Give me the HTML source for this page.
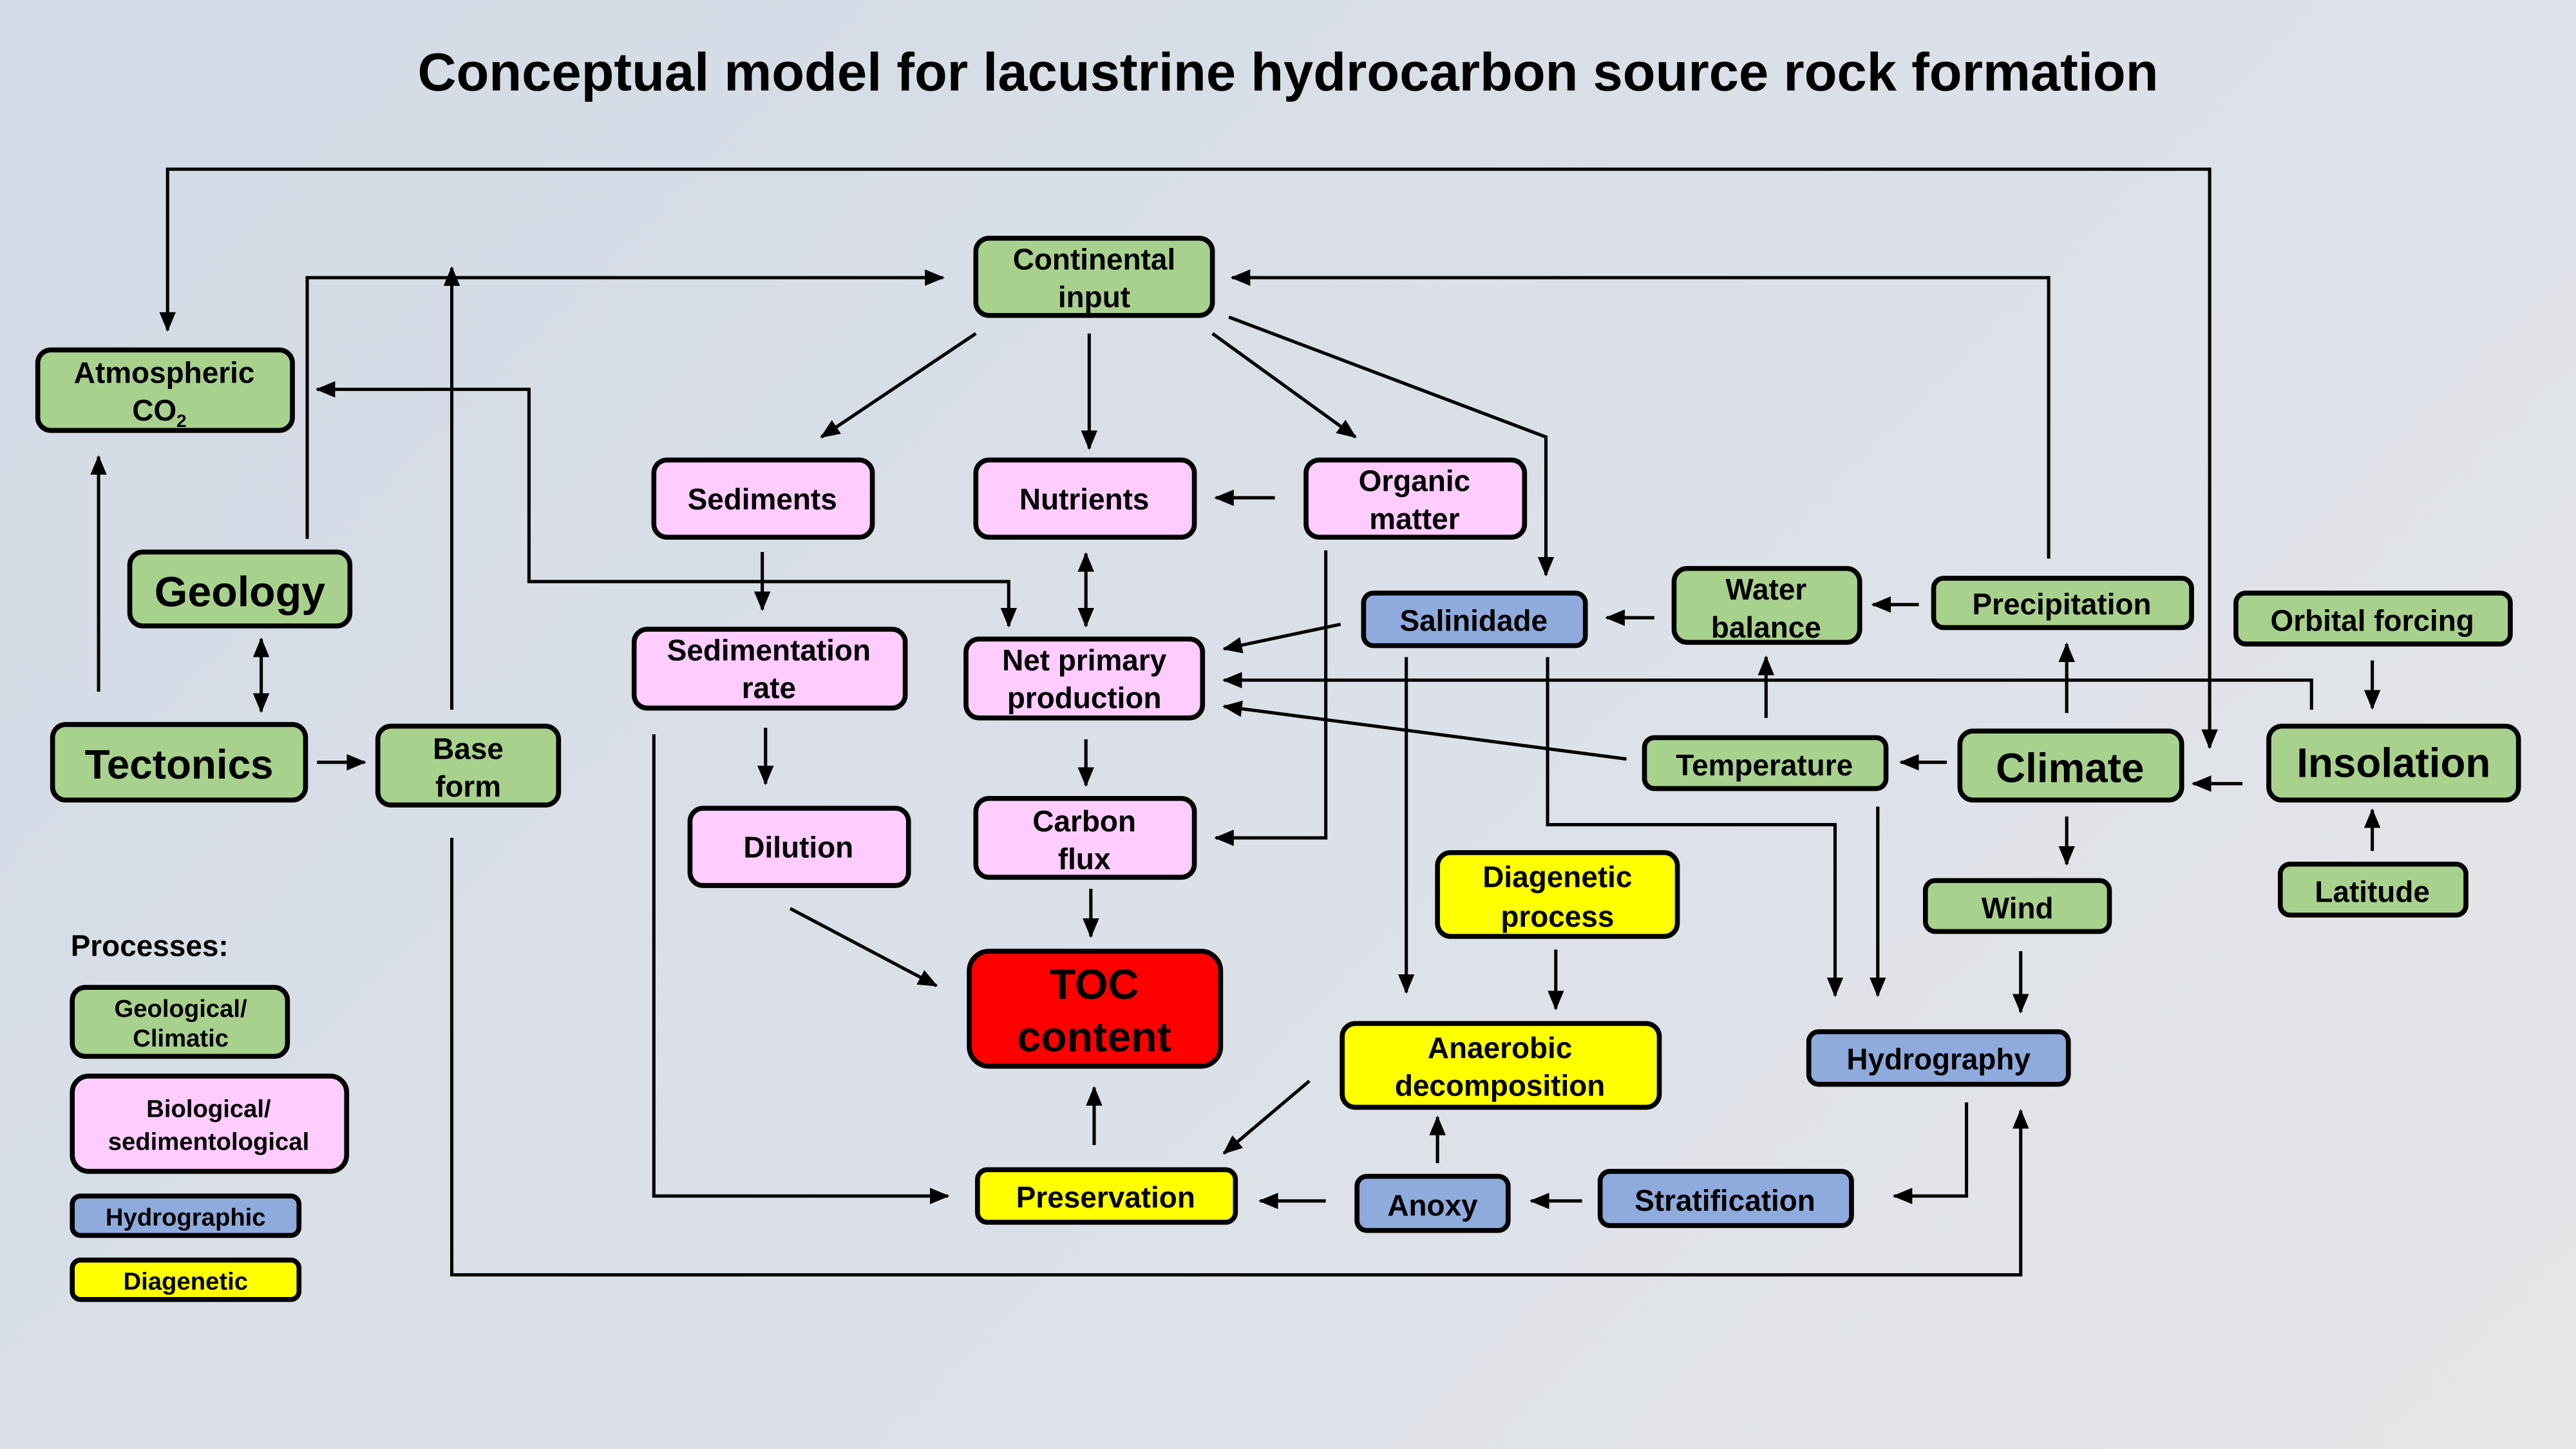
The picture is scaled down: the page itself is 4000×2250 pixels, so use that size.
<!DOCTYPE html>
<html><head><meta charset="utf-8"><style>
html,body{margin:0;padding:0;}
body{width:4000px;height:2250px;overflow:hidden;background:linear-gradient(135deg,#d3dae6 0%,#dde1e8 60%,#e6e6e8 100%);}
svg{display:block;}
text{font-family:"Liberation Sans",sans-serif;font-weight:bold;fill:#000;text-anchor:middle;}
.b{stroke:#000;stroke-width:3;}
.g{fill:#a9d18e}.p{fill:#ffccff}.h{fill:#8faadc}.y{fill:#ffff00}.r{fill:#ff0000}
.l{fill:none;stroke:#000;stroke-width:2;}
</style></head><body>
<svg width="4000" height="2250" viewBox="0 0 1568 882" xmlns="http://www.w3.org/2000/svg">
<defs>
<marker id="a" markerUnits="userSpaceOnUse" markerWidth="12" markerHeight="10" refX="11" refY="5" orient="auto"><path d="M0,0 L12,5 L0,10 Z" fill="#000"/></marker>
<marker id="s" markerUnits="userSpaceOnUse" markerWidth="12" markerHeight="10" refX="1" refY="5" orient="auto"><path d="M12,0 L0,5 L12,10 Z" fill="#000"/></marker>
</defs>
<text x="784" y="55" style="font-size:32.6px">Conceptual model for lacustrine hydrocarbon source rock formation</text>

<g class="l">
<path d="M1345,455 V103 H102 V201" marker-start="url(#s)" marker-end="url(#a)"/>
<path d="M187,328 V169 H574" marker-end="url(#a)"/>
<path d="M275,432 V163" marker-end="url(#a)"/>
<path d="M60,421 V278" marker-end="url(#a)"/>
<path d="M159,389 V433" marker-start="url(#s)" marker-end="url(#a)"/>
<path d="M193,464 H222" marker-end="url(#a)"/>
<path d="M193,237 H322 V354 H614 V381" marker-start="url(#s)" marker-end="url(#a)"/>
<path d="M594,203 L500,266" marker-end="url(#a)"/>
<path d="M663,203 V273" marker-end="url(#a)"/>
<path d="M738,203 L825,266" marker-end="url(#a)"/>
<path d="M748,193 L941,266 V350" marker-end="url(#a)"/>
<path d="M1247,340 V169 H750" marker-end="url(#a)"/>
<path d="M776,303 H740" marker-end="url(#a)"/>
<path d="M464,336 V371" marker-end="url(#a)"/>
<path d="M661,337 V381" marker-start="url(#s)" marker-end="url(#a)"/>
<path d="M466,443 V477" marker-end="url(#a)"/>
<path d="M661,450 V478" marker-end="url(#a)"/>
<path d="M807,335 V510 H740" marker-end="url(#a)"/>
<path d="M664,541 V570" marker-end="url(#a)"/>
<path d="M481,553 L570,600" marker-end="url(#a)"/>
<path d="M666,697 V662" marker-end="url(#a)"/>
<path d="M398,447 V728 H577" marker-end="url(#a)"/>
<path d="M816,380 L745,395" marker-end="url(#a)"/>
<path d="M1407,432 V414 H745" marker-end="url(#a)"/>
<path d="M990,462 L745,430" marker-end="url(#a)"/>
<path d="M1007,376 H978" marker-end="url(#a)"/>
<path d="M1168,368 H1140" marker-end="url(#a)"/>
<path d="M1075,437 V400" marker-end="url(#a)"/>
<path d="M1185,464 H1157" marker-end="url(#a)"/>
<path d="M1258,434 V392" marker-end="url(#a)"/>
<path d="M1365,477 H1335" marker-end="url(#a)"/>
<path d="M1444,402 V431" marker-end="url(#a)"/>
<path d="M1444,518 V493" marker-end="url(#a)"/>
<path d="M1258,497 V526" marker-end="url(#a)"/>
<path d="M1230,579 V616" marker-end="url(#a)"/>
<path d="M856,400 V604" marker-end="url(#a)"/>
<path d="M942,400 V502 H1117 V606" marker-end="url(#a)"/>
<path d="M1143,491 V606" marker-end="url(#a)"/>
<path d="M947,578 V614" marker-end="url(#a)"/>
<path d="M797,658 L745,702" marker-end="url(#a)"/>
<path d="M875,708 V680" marker-end="url(#a)"/>
<path d="M807,731 H767" marker-end="url(#a)"/>
<path d="M963,731 H932" marker-end="url(#a)"/>
<path d="M1197,671 V728 H1153" marker-end="url(#a)"/>
<path d="M275,510 V776 H1230 V676" marker-end="url(#a)"/>
</g>

<g class="b">
<rect class="g" x="23" y="213" width="155" height="49" rx="8"/>
<rect class="g" x="79" y="336" width="134" height="45" rx="8"/>
<rect class="g" x="32" y="441" width="154" height="46" rx="8"/>
<rect class="g" x="230" y="442" width="110" height="48" rx="8"/>
<rect class="g" x="594" y="145" width="144" height="47" rx="8"/>
<rect class="p" x="398" y="280" width="133" height="47" rx="8"/>
<rect class="p" x="594" y="280" width="133" height="47" rx="8"/>
<rect class="p" x="795" y="280" width="133" height="47" rx="8"/>
<rect class="p" x="386" y="383" width="165" height="48" rx="8"/>
<rect class="p" x="588" y="389" width="144" height="48" rx="8"/>
<rect class="p" x="420" y="492" width="133" height="47" rx="8"/>
<rect class="p" x="594" y="486" width="133" height="48" rx="8"/>
<rect class="r" x="590" y="579" width="153" height="70" rx="12"/>
<rect class="h" x="830" y="361" width="135" height="32" rx="6"/>
<rect class="g" x="1019" y="346" width="113" height="45" rx="8"/>
<rect class="g" x="1177" y="352" width="157" height="30" rx="6"/>
<rect class="g" x="1361" y="361" width="167" height="31" rx="6"/>
<rect class="g" x="1001" y="449" width="147" height="31" rx="6"/>
<rect class="g" x="1193" y="445" width="135" height="42" rx="8"/>
<rect class="g" x="1381" y="442" width="152" height="45" rx="8"/>
<rect class="g" x="1388" y="526" width="113" height="31" rx="6"/>
<rect class="g" x="1172" y="536" width="112" height="31" rx="6"/>
<rect class="y" x="875" y="519" width="146" height="51" rx="8"/>
<rect class="h" x="1101" y="628" width="158" height="32" rx="6"/>
<rect class="y" x="817" y="623" width="193" height="51" rx="8"/>
<rect class="y" x="595" y="712" width="157" height="32" rx="6"/>
<rect class="h" x="826" y="716" width="92" height="33" rx="6"/>
<rect class="h" x="974" y="713" width="153" height="33" rx="6"/>
<rect class="g" x="44" y="601" width="131" height="42" rx="8"/>
<rect class="p" x="44" y="655" width="167" height="58" rx="10"/>
<rect class="h" x="44" y="728" width="138" height="24" rx="5"/>
<rect class="y" x="44" y="767" width="138" height="24" rx="5"/>
</g>

<g style="font-size:18px">
<text x="100" y="233">Atmospheric</text><text x="97" y="256">CO<tspan style="font-size:11px" dy="4">2</tspan></text>
<text x="146" y="369" style="font-size:26px">Geology</text>
<text x="109" y="474" style="font-size:25px">Tectonics</text>
<text x="285" y="462">Base</text><text x="285" y="485">form</text>
<text x="666" y="164">Continental</text><text x="666" y="187">input</text>
<text x="464" y="310">Sediments</text>
<text x="660" y="310">Nutrients</text>
<text x="861" y="299">Organic</text><text x="861" y="322">matter</text>
<text x="468" y="402">Sedimentation</text><text x="468" y="425">rate</text>
<text x="660" y="408">Net primary</text><text x="660" y="431">production</text>
<text x="486" y="522">Dilution</text>
<text x="660" y="506">Carbon</text><text x="660" y="529">flux</text>
<text x="666" y="608" style="font-size:26px">TOC</text><text x="666" y="640" style="font-size:26px">content</text>
<text x="897" y="384">Salinidade</text>
<text x="1075" y="365">Water</text><text x="1075" y="388">balance</text>
<text x="1255" y="374">Precipitation</text>
<text x="1444" y="384">Orbital forcing</text>
<text x="1074" y="472">Temperature</text>
<text x="1260" y="476" style="font-size:25px">Climate</text>
<text x="1457" y="473" style="font-size:25px">Insolation</text>
<text x="1444" y="549">Latitude</text>
<text x="1228" y="559">Wind</text>
<text x="948" y="540">Diagenetic</text><text x="948" y="564">process</text>
<text x="1180" y="651">Hydrography</text>
<text x="913" y="644">Anaerobic</text><text x="913" y="667">decomposition</text>
<text x="673" y="735">Preservation</text>
<text x="872" y="740">Anoxy</text>
<text x="1050" y="737">Stratification</text>
<text x="95" y="582" style="text-anchor:start;font-size:18px" transform="translate(-52,0)">Processes:</text>
</g>
<g style="font-size:15px">
<text x="110" y="619">Geological/</text><text x="110" y="637">Climatic</text>
<text x="127" y="680">Biological/</text><text x="127" y="700">sedimentological</text>
<text x="113" y="746">Hydrographic</text>
<text x="113" y="785">Diagenetic</text>
</g>
</svg>
</body></html>
